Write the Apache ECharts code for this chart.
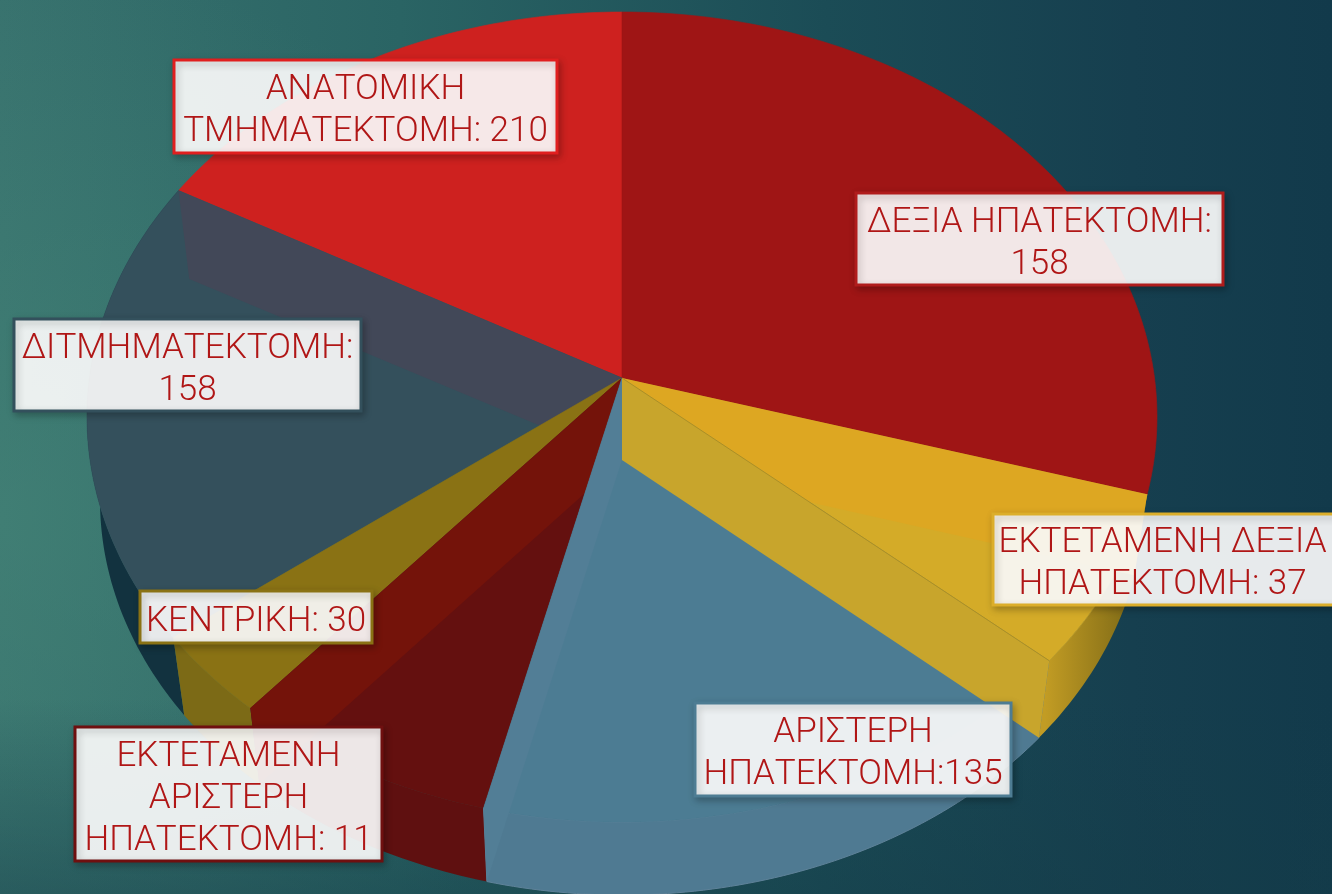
<!DOCTYPE html>
<html><head><meta charset="utf-8">
<style>html,body{margin:0;padding:0;background:#123}
#c{width:1332px;height:894px;background:
 linear-gradient(180deg,rgba(20,60,72,0) 78%,rgba(20,60,72,.45) 100%),
 radial-gradient(ellipse 620px 560px at 0 58%,rgba(72,138,122,.5),rgba(72,138,122,0)),
 linear-gradient(90deg,#38726e 0%,#2a6464 30%,#1b4c56 62%,#163f4f 85%,#123a4b 100%)}</style>
<script src="https://cdn.jsdelivr.net/npm/echarts@6/dist/echarts.min.js"></script>
</head><body><div id="c"></div>
<script>
// Data (clockwise from 12 o'clock)
const labelTexts = ['ΔΕΞΙΑ ΗΠΑΤΕΚΤΟΜΗ:\n', 'ΕΚΤΕΤΑΜΕΝΗ ΔΕΞΙΑ\nΗΠΑΤΕΚΤΟΜΗ: ', 'ΑΡΙΣΤΕΡΗ\nΗΠΑΤΕΚΤΟΜΗ:', 'ΕΚΤΕΤΑΜΕΝΗ\nΑΡΙΣΤΕΡΗ\nΗΠΑΤΕΚΤΟΜΗ: ', 'ΚΕΝΤΡΙΚΗ: ', 'ΔΙΤΜΗΜΑΤΕΚΤΟΜΗ:\n', 'ΑΝΑΤΟΜΙΚΗ\nΤΜΗΜΑΤΕΚΤΟΜΗ: '];
const labelValues = [158, 37, 135, 11, 30, 158, 210];
// The slice sizes as drawn in the picture (degrees of the rim); they do not follow the printed numbers.
const sliceDegrees = [101, 26, 68, 29, 13, 67, 56];

// Styles
const topColors  = ['#9f1515', '#d4ab28', '#4c7c93', '#64100f', '#8a7214', '#34505c', '#ce211f'];
const wallColors = ['#dda722', '#c8a52c', '#527e96', '#74130a', null, '#424858', null];
const sideColors = [null,
  new echarts.graphic.LinearGradient(1045, 0, 1122, 0, [{offset: 0, color: '#c29c24'}, {offset: 1, color: '#877018'}], true),
  '#4f7a92', '#5f1010', '#7c6a16',
  '#12323f', null];
const borderColors = ['#b01c1c', '#dcae2a', '#4d7c93', '#6f0f0f', '#8a7214', '#33505c', '#e01f1f'];
// Layout
const rim = {cx: 622, cy: 417, rx: 535, ry: 405};
const base = {cx: 622, cy: 500, rx: 522, ry: 395};
const apexTop = [622, 378], apexBottom = [622, 460];
const boxes = [[856,193,1223,285],[993,514,1340,605],[695,703,1011,796],[75,727,382,861],[140,591,372,643],[14,319,361,411],[174,60,557,153]];
const paintOrder = [6, 5, 4, 3, 2, 1, 0];

const pt = (e, deg) => { const t = deg * Math.PI / 180; return [e.cx + e.rx * Math.sin(t), e.cy - e.ry * Math.cos(t)]; };
const arc = (e, a, b) => { const n = Math.max(2, Math.ceil(Math.abs(b - a))), out = []; for (let i = 0; i <= n; i++) out.push(pt(e, a + (b - a) * i / n)); return out; };

let acc = 0;
const starts = sliceDegrees.map(d => { const s = acc; acc += d; return s; });
const sliceData = paintOrder.map(i => ({ name: labelTexts[i].replace(/\s+/g, ' ').trim(), value: [starts[i], starts[i] + sliceDegrees[i], labelValues[i], i] }));

const wall = (i, b) => ({ type: 'polygon', shape: { points: [apexTop, pt(rim, b), pt(base, b), apexBottom] }, style: { fill: wallColors[i] } });

function renderSlice(params, api) {
  const a = api.value(0), b = api.value(1), i = api.value(3), children = [];
  if (sideColors[i]) children.push({ type: 'polygon', shape: { points: arc(rim, a, b).concat(arc(base, b, a)) },
    style: { fill: sideColors[i], stroke: i === 2 ? '#5f8299' : null, lineWidth: 1 } });
  children.push({ type: 'polygon', shape: { points: [apexTop].concat(arc(rim, a, b)) },
    style: { fill: topColors[i], stroke: topColors[i], lineWidth: 0.6 } });
  if (i !== 1 && wallColors[i]) children.push(wall(i, b));
  if (i === 0) {
    // the wall of the yellow slice sits above the orange wall of its neighbour
    const e = starts[1] + sliceDegrees[1];
    children.push(wall(1, e));
    children.push({ type: 'polyline', shape: { points: [apexTop, pt(rim, e)] }, style: { stroke: '#a98f28', lineWidth: 1, fill: null } });
  }
  return { type: 'group', children };
}
function renderLabel(params, api) {
  const i = api.value(3), q = boxes[i];
  const text = labelTexts[i] + api.value(2);
  return { type: 'group', children: [
    { type: 'rect', shape: { x: q[0], y: q[1], width: q[2] - q[0], height: q[3] - q[1] },
      style: { fill: 'rgba(255,255,255,0.9)', stroke: borderColors[i], lineWidth: 3, shadowColor: 'rgba(0,0,0,0.25)', shadowBlur: 7, shadowOffsetX: 2, shadowOffsetY: 3 } },
    { type: 'text', style: { text, x: (q[0] + Math.min(q[2], 1332)) / 2, y: (q[1] + q[3]) / 2 + 5, align: 'center', verticalAlign: 'middle',
      fontFamily: 'Roboto', fontWeight: 300, fontSize: 35, lineHeight: 42, fill: '#b01616' } }
  ]};
}
const chart = echarts.init(document.getElementById('c'), null, { renderer: 'canvas' });
chart.setOption({
  animation: false,
  backgroundColor: 'transparent',
  series: [
    { type: 'custom', coordinateSystem: 'none', silent: true, data: sliceData, renderItem: renderSlice, z: 1 },
    { type: 'custom', coordinateSystem: 'none', silent: true, data: sliceData, renderItem: renderLabel, z: 5 }
  ]
});
</script></body></html>
